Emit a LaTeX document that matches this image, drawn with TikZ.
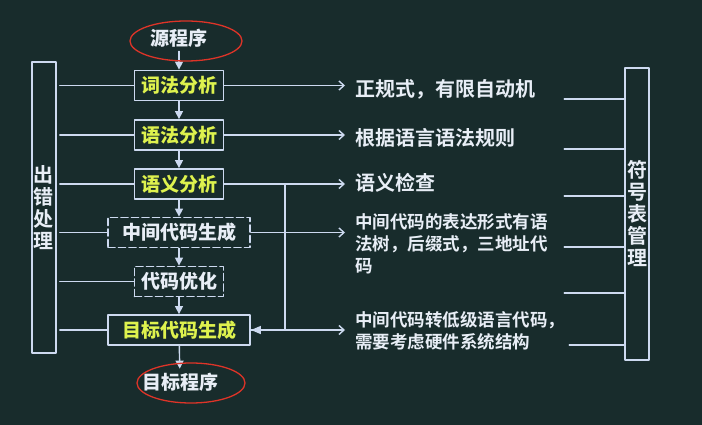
\documentclass[tikz,border=0pt]{standalone}
\usepackage{fontspec}
\newfontfamily\cjk{Noto Sans CJK SC}[BoldFont={Noto Sans CJK SC Bold}]
\newfontfamily\cjkheavy{Noto Sans CJK SC Black}
\usetikzlibrary{arrows,arrows.meta}
\definecolor{board}{RGB}{24,44,44}
\definecolor{chalk}{RGB}{205,218,240}
\definecolor{lime}{RGB}{222,242,78}
\definecolor{ink}{RGB}{232,238,246}
\definecolor{marker}{RGB}{222,52,40}
\tikzset{
  phase/.style={draw=chalk,line width=1.8pt,minimum width=89pt,minimum height=30pt,inner sep=0pt,
    text=lime,font=\cjkheavy\fontsize{19}{19}\selectfont},
  wide/.style={minimum width=142pt},
  dashbox/.style={dash pattern=on 7pt off 3.5pt,text=ink},
  endtext/.style={inner sep=4pt,text=ink,font=\cjkheavy\fontsize{19}{19}\selectfont},
  side/.style={draw=chalk,line width=1.6pt,minimum width=24pt,inner sep=0pt,align=center,
    text=ink,font=\cjk\bfseries\fontsize{20}{22}\selectfont},
  note/.style={anchor=west,inner sep=0pt,align=left,text=ink,font=\cjk\bfseries\fontsize{20}{22}\selectfont},
  small/.style={font=\cjk\bfseries\fontsize{17.5}{22}\selectfont},
  link/.style={draw=chalk,line width=1.4pt},
  down/.style={link,-{Triangle[length=8pt,width=8pt]}},
  back/.style={link,-{Triangle[length=10pt,width=8pt]}},
  feed/.style={link,-{Straight Barb[length=5pt,width=9pt]}}
}
\begin{document}
\begin{tikzpicture}[line cap=round,line join=round,x=1pt,y=-1pt]
\fill [board] (0,0) rectangle (702,425);
\useasboundingbox (0,0) rectangle (702,425);
% the phases
\node [phase] (lex) at (179,85.5) {词法分析};
\node [phase] (syn) at (179,135) {语法分析};
\node [phase] (sem) at (179,184) {语义分析};
\node [phase,wide,dashbox] (mid) at (179,232.5) {中间代码生成};
\node [phase,dashbox] (opt) at (179,281.5) {代码优化};
\node [phase,wide] (gen) at (179,330) {目标代码生成};
\node [endtext] (src) at (179,38) {源程序};
\node [endtext] (tgt) at (180,382) {目标程序};
% side boxes
\node [side,minimum height=291pt] (err) at (44,207.5) {出\\错\\处\\理};
\node [side,minimum height=292pt] (sym) at (637,214) {符\\号\\表\\管\\理};
% notes
\node [note] (n1) at (355,89) {正规式，有限自动机};
\node [note] (n2) at (355,138) {根据语言语法规则};
\node [note] (n3) at (355,183) {语义检查};
\node [note,small] (n4) at (355,244) {中间代码的表达形式有语\\法树，后缀式，三地址代\\码};
\node [note,small] (n5) at (355,331) {中间代码转低级语言代码，\\需要考虑硬件系统结构};
% flow
\foreach \a/\b in {src/lex,lex/syn,syn/sem,sem/mid,mid/opt,opt/gen,gen/tgt}
  \draw [down] (\a) -- (\b);
\coordinate (tip) at (345,0);
\foreach \n in {lex,syn,sem,mid,gen}
  \draw [feed] (\n.east) -- (\n.east -| tip);
\coordinate (fork) at (285,184);
\draw [back] (fork) |- (gen.east);
\foreach \n in {lex,syn,sem,mid,opt,gen}
  \draw [link,shorten <=3pt] (err.east |- \n.west) -- (\n.west);
\foreach \y/\l in {99/60,149/60,196/60,247/60,293/60,345/55}
  \draw [link] (sym.west |- 0,\y) -- ++(-\l,0);
% red marks
\draw [marker,line width=1.3pt] (186,41) ellipse [x radius=56,y radius=20];
\draw [marker,line width=1.3pt] (191,383) ellipse [x radius=54,y radius=20];
\end{tikzpicture}
\end{document}
